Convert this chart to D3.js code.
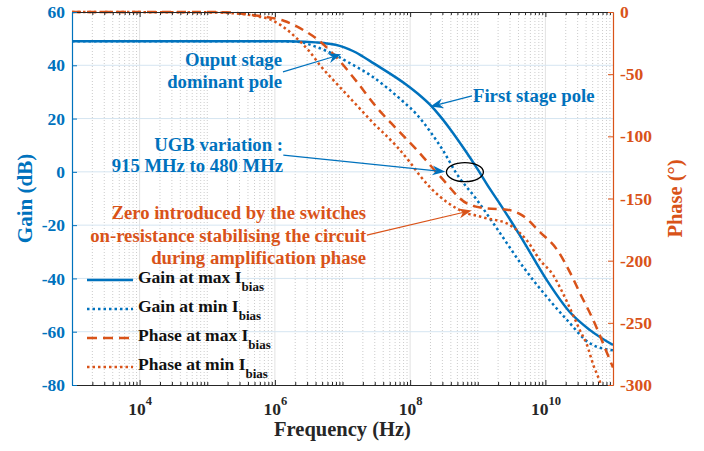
<!DOCTYPE html>
<html>
<head>
<meta charset="utf-8">
<script src="https://cdn.jsdelivr.net/npm/d3@7"></script>
<style>
  body { margin: 0; background: #fff; }
  text { font-family: "Liberation Serif", "Times New Roman", serif; font-weight: bold; }
</style>
</head>
<body>
<div id="chart"></div>
<script>
// frequencies are given as log10(f / Hz)
const gainMaxLogF = [3, 5, 6, 6.3, 6.6, 6.8, 6.96, 7.1, 7.2, 7.3, 7.45, 7.95, 8.12, 8.29, 8.44, 8.59, 8.81, 8.99, 9.18, 9.33, 9.63, 10.02, 10.36, 10.66, 11];
const gainMax     = [49, 49, 49, 48.95, 48.6, 48.1, 47.3, 46, 44.8, 43.3, 40.9, 32.6, 29.2, 25.3, 21, 16.1, 8.2, 1.3, -6.4, -12.1, -24.1, -40.6, -52.6, -59.4, -65];

const gainMinLogF = [3, 6, 6.2, 6.37, 6.6, 6.92, 7.06, 7.41, 7.9, 8.1, 8.3, 8.5, 8.67, 8.99, 9.33, 9.67, 10.02, 10.32, 10.66, 11];
const gainMin     = [49, 49, 48.95, 48.7, 47, 43.5, 41.5, 36.3, 26.3, 21.5, 15, 7.5, 0, -10.6, -23, -35.6, -46.9, -55.6, -64.4, -67];

const phaseMaxLogF = [3, 5, 5.38, 5.59, 5.88, 6.13, 6.42, 6.64, 6.92, 7.21, 7.51, 7.8, 8.1, 8.44, 8.84, 9.13, 9.43, 9.67, 9.92, 10.17, 10.37, 10.51, 10.71, 10.91, 11];
const phaseMax     = [0, 0, -0.5, -2, -4, -7, -14.5, -22.5, -37, -56, -77, -94, -111, -132, -154, -158, -159, -164, -177, -191, -210, -226, -248, -274, -286];

const phaseMinLogF = [3, 5, 5.38, 5.7, 5.93, 6.1, 6.32, 6.5, 6.67, 6.92, 7.21, 7.45, 7.8, 8.0, 8.15, 8.44, 8.69, 8.84, 9.0, 9.13, 9.28, 9.43, 9.63, 9.73, 9.92, 10.12, 10.22, 10.42, 10.51, 10.61, 10.71, 10.81, 10.9];
const phaseMin     = [0, -0.3, -1, -3, -6, -11, -21, -31, -43, -58, -75, -89, -108, -121, -132, -148.5, -158, -162, -164, -166, -167.5, -170, -178, -184, -199.5, -212, -222, -245, -256, -267, -284, -298, -316];

const freqTicks = [1e4, 1e6, 1e8, 1e10];
const gainTicks = [-80, -60, -40, -20, 0, 20, 40, 60];
const phaseTicks = [-300, -250, -200, -150, -100, -50, 0];
const legendLabels = ["Gain at max I", "Gain at min I", "Phase at max I", "Phase at min I"];

const blue = "#0072BD", orange = "#D95319", dark = "#262626";
const W = 704, H = 451;
const m = { left: 72, right: 91, top: 12, bottom: 66 };
const x0 = m.left, x1 = W - m.right, y0 = m.top, y1 = H - m.bottom;

const svg = d3.select("#chart").append("svg").attr("width", W).attr("height", H);

const x = d3.scaleLog().domain([1e3, 1e11]).range([x0, x1]);
const yG = d3.scaleLinear().domain([-80, 60]).range([y1, y0]);
const yP = d3.scaleLinear().domain([-300, 0]).range([y1, y0]);

// minor decade positions (everything except the labelled decades and the edges)
const minorTicks = [];
for (let e = 3; e < 11; e++) {
  for (let k = 1; k < 10; k++) {
    if (k === 1 && (e === 3 || e % 2 === 0)) continue;
    minorTicks.push(k * Math.pow(10, e));
  }
}

// grid
const grid = svg.append("g");
grid.selectAll(".vmin").data(minorTicks).enter().append("line")
  .attr("x1", d => x(d)).attr("x2", d => x(d)).attr("y1", y0).attr("y2", y1)
  .attr("stroke", "#bfbfbf").attr("stroke-width", 0.8).attr("stroke-dasharray", "1,2");
grid.selectAll(".vmaj").data(freqTicks).enter().append("line")
  .attr("x1", d => x(d)).attr("x2", d => x(d)).attr("y1", y0).attr("y2", y1)
  .attr("stroke", "#e2e2e2").attr("stroke-width", 1);
grid.selectAll(".h").data(gainTicks.slice(1, -1)).enter().append("line")
  .attr("x1", x0).attr("x2", x1).attr("y1", d => yG(d)).attr("y2", d => yG(d))
  .attr("stroke", "#d5e5f1").attr("stroke-width", 1);

// curves
svg.append("clipPath").attr("id", "clip").append("rect")
  .attr("x", x0).attr("y", y0 - 3).attr("width", x1 - x0).attr("height", y1 - y0 + 3);
const plot = svg.append("g").attr("clip-path", "url(#clip)");

const lineG = d3.line().x(d => x(Math.pow(10, d[0]))).y(d => yG(d[1])).curve(d3.curveMonotoneX);
const lineP = d3.line().x(d => x(Math.pow(10, d[0]))).y(d => yP(d[1])).curve(d3.curveMonotoneX);

const styles = [
  { color: blue, dash: null },
  { color: blue, dash: "2.5,3" },
  { color: orange, dash: "9,6" },
  { color: orange, dash: "2.5,3" }
];
const paths = [
  lineG(d3.zip(gainMaxLogF, gainMax)),
  lineG(d3.zip(gainMinLogF, gainMin)),
  lineP(d3.zip(phaseMaxLogF, phaseMax)),
  lineP(d3.zip(phaseMinLogF, phaseMin))
];
paths.forEach((p, i) => {
  plot.append("path").attr("d", p).attr("fill", "none")
    .attr("stroke", styles[i].color).attr("stroke-width", 2.5)
    .attr("stroke-dasharray", styles[i].dash);
});

// axes
function styleAxis(g, color) {
  g.attr("font-family", null).attr("font-size", 17.5).attr("font-weight", "bold");
  g.select(".domain").attr("stroke", color).attr("stroke-width", 1.2);
  g.selectAll(".tick line").attr("stroke", color);
  g.selectAll(".tick text").attr("fill", color);
}

const gx = svg.append("g").attr("transform", `translate(0,${y1})`)
  .call(d3.axisBottom(x).tickValues(freqTicks).tickSize(-5).tickSizeOuter(0).tickFormat(""));
styleAxis(gx, dark);
gx.selectAll(".tick text").each(function(d) {
  const t = d3.select(this).attr("y", 30).attr("dy", null);
  t.append("tspan").text("10");
  t.append("tspan").attr("dy", -10).attr("font-size", 12.5).text(Math.round(Math.log10(d)));
});
svg.append("g").attr("transform", `translate(0,${y1})`)
  .call(d3.axisBottom(x).tickValues(minorTicks).tickSize(-3).tickSizeOuter(0).tickFormat(""))
  .call(g => g.select(".domain").remove())
  .selectAll("line").attr("stroke", dark);

const gt = svg.append("g").attr("transform", `translate(0,${y0})`)
  .call(d3.axisTop(x).tickValues(freqTicks).tickSize(-5).tickSizeOuter(0).tickFormat(""));
styleAxis(gt, dark);
svg.append("g").attr("transform", `translate(0,${y0})`)
  .call(d3.axisTop(x).tickValues(minorTicks).tickSize(-3).tickSizeOuter(0).tickFormat(""))
  .call(g => g.select(".domain").remove())
  .selectAll("line").attr("stroke", dark);

const gl = svg.append("g").attr("transform", `translate(${x0},0)`)
  .call(d3.axisLeft(yG).tickValues(gainTicks).tickSize(-5).tickSizeOuter(0).tickPadding(7)
    .tickFormat(d => String(d)));
styleAxis(gl, blue);

const gr = svg.append("g").attr("transform", `translate(${x1},0)`)
  .call(d3.axisRight(yP).tickValues(phaseTicks).tickSize(-5).tickSizeOuter(0).tickPadding(7)
    .tickFormat(d => String(d)));
styleAxis(gr, orange);

// axis titles
svg.append("text").attr("x", (x0 + x1) / 2).attr("y", 436).attr("text-anchor", "middle")
  .attr("font-size", 20.5).attr("fill", dark).text("Frequency (Hz)");
svg.append("text").attr("transform", `translate(32,${(y0 + y1) / 2}) rotate(-90)`)
  .attr("text-anchor", "middle").attr("font-size", 21).attr("fill", blue).text("Gain (dB)");
svg.append("text").attr("transform", `translate(682,${(y0 + y1) / 2}) rotate(-90)`)
  .attr("text-anchor", "middle").attr("font-size", 20.5).attr("fill", orange).text("Phase (°)");

// legend
const lg = svg.append("g");
legendLabels.forEach((lab, i) => {
  const ly = 280 + i * 29;
  lg.append("line").attr("x1", 87).attr("x2", 133).attr("y1", ly).attr("y2", ly)
    .attr("stroke", styles[i].color).attr("stroke-width", 2.5)
    .attr("stroke-dasharray", styles[i].dash === "9,6" ? "10,6" : styles[i].dash);
  const t = lg.append("text").attr("x", 138).attr("y", ly + 3).attr("font-size", 17.5).attr("fill", "#111");
  t.append("tspan").text(lab);
  t.append("tspan").attr("dy", 8).attr("font-size", 13).text("bias");
});

// annotations (anchored in data units)
const ann = svg.append("g");
function arrow(fx1, v1, fx2, v2, ys, color) {
  const ax = x(Math.pow(10, fx1)), ay = ys(v1), bx = x(Math.pow(10, fx2)), by = ys(v2);
  const a = Math.atan2(by - ay, bx - ax), L = 13, w = 5, n = 9;
  const c = Math.cos(a), s = Math.sin(a);
  ann.append("line").attr("x1", ax).attr("y1", ay).attr("x2", bx - n * c).attr("y2", by - n * s)
    .attr("stroke", color).attr("stroke-width", 1.2);
  ann.append("polygon").attr("fill", color).attr("points", [
    [bx, by],
    [bx - L * c + w * s, by - L * s - w * c],
    [bx - n * c, by - n * s],
    [bx - L * c - w * s, by - L * s + w * c]
  ].map(p => p.join(",")).join(" "));
}
function label(lines, fx, ys, vals, anchor, color) {
  lines.forEach((l, i) => {
    ann.append("text").attr("x", x(Math.pow(10, fx))).attr("y", ys(vals[i]))
      .attr("text-anchor", anchor).attr("font-size", 18.7).attr("fill", color).text(l);
  });
}

label(["Ouput stage", "dominant pole"], 6.105, yG, [39.85, 31.4], "end", blue);
arrow(6.12, 37.5, 6.98, 44.1, yG, blue);

label(["First stage pole"], 8.93, yG, [26.4], "start", blue);
arrow(8.915, 28.5, 8.3, 24.5, yG, blue);

label(["UGB variation :", "915 MHz to 480 MHz"], 6.12, yG, [7.7, -0.2], "end", blue);
arrow(6.125, 6.3, 8.52, 0.05, yG, blue);
ann.append("ellipse").attr("cx", x(Math.pow(10, 8.81))).attr("cy", yG(-0.1))
  .attr("rx", 18.5).attr("ry", 9.5).attr("fill", "none").attr("stroke", "#000").attr("stroke-width", 1.3);

label(["Zero introduced by the switches", "on-resistance stabilising the circuit", "during amplification phase"],
  7.35, yP, [-166.7, -184.7, -202.7], "end", orange);
arrow(7.36, -179.4, 8.91, -159.6, yP, orange);
</script>
</body>
</html>
